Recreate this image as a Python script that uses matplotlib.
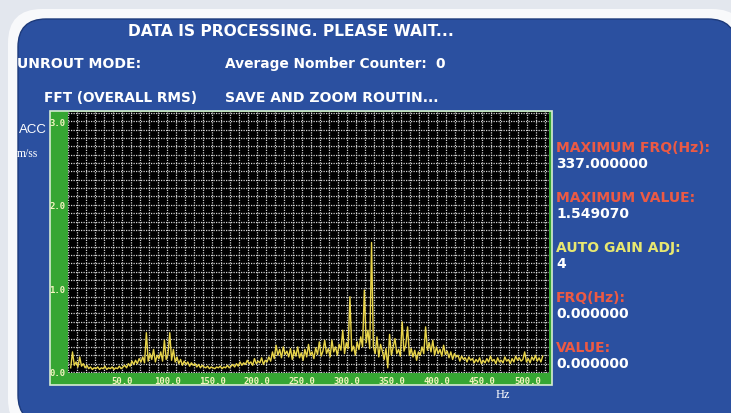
import matplotlib
matplotlib.use("Agg")
import matplotlib.pyplot as plt
import numpy as np
from matplotlib.patches import FancyBboxPatch, Rectangle
from matplotlib.transforms import ScaledTranslation

# spectrum amplitude (m/ss), one value every 2 Hz starting at 3 Hz
acc = [
    0.05, 0.24, 0.08, 0.12, 0.06,  0.18, 0.07, 0.10, 0.05, 0.08,
    0.04, 0.06, 0.03, 0.05, 0.04,  0.06, 0.03, 0.05, 0.04, 0.07,
    0.03, 0.05, 0.04, 0.06, 0.03,  0.05, 0.04, 0.07, 0.04, 0.06,
    0.08, 0.05, 0.10, 0.07, 0.13,  0.09, 0.14, 0.10, 0.16, 0.12,
    0.18, 0.11, 0.47, 0.13, 0.22,  0.15, 0.27, 0.12, 0.20, 0.16,
    0.24, 0.13, 0.38, 0.15, 0.21,  0.47, 0.14, 0.27, 0.12, 0.18,
    0.10, 0.15, 0.08, 0.13, 0.09,  0.12, 0.07, 0.11, 0.08, 0.10,
    0.06, 0.09, 0.05, 0.08, 0.06,  0.05, 0.07, 0.04, 0.06, 0.05,
    0.04, 0.06, 0.05, 0.07, 0.04,  0.06, 0.05, 0.08, 0.05, 0.07,
    0.09, 0.06, 0.10, 0.07, 0.12,  0.08, 0.11, 0.09, 0.14, 0.10,
    0.12, 0.08, 0.16, 0.10, 0.13,  0.11, 0.17, 0.09, 0.14, 0.12,
    0.18, 0.13, 0.24, 0.16, 0.32,  0.20, 0.27, 0.17, 0.30, 0.21,
    0.25, 0.18, 0.28, 0.15, 0.26,  0.19, 0.30, 0.17, 0.23, 0.14,
    0.27, 0.18, 0.33, 0.20, 0.24,  0.16, 0.29, 0.21, 0.36, 0.19,
    0.25, 0.38, 0.22, 0.28, 0.18,  0.38, 0.24, 0.30, 0.20, 0.33,
    0.26, 0.50, 0.22, 0.35, 0.28,  0.90, 0.25, 0.31, 0.20, 0.36,
    0.27, 0.42, 0.30, 0.98, 0.35,  0.50, 0.28, 1.549, 0.30, 0.22,
    0.42, 0.18, 0.33, 0.25, 0.15,  0.28, 0.05, 0.45, 0.20, 0.30,
    0.40, 0.22, 0.27, 0.19, 0.60,  0.25, 0.32, 0.54, 0.20, 0.28,
    0.18, 0.26, 0.14, 0.24, 0.20,  0.30, 0.22, 0.54, 0.26, 0.35,
    0.24, 0.38, 0.20, 0.30, 0.22,  0.27, 0.19, 0.32, 0.21, 0.25,
    0.17, 0.24, 0.15, 0.22, 0.18,  0.20, 0.13, 0.19, 0.15, 0.17,
    0.12, 0.18, 0.14, 0.16, 0.11,  0.15, 0.12, 0.17, 0.10, 0.14,
    0.11, 0.16, 0.12, 0.19, 0.13,  0.15, 0.10, 0.17, 0.12, 0.14,
    0.11, 0.18, 0.13, 0.15, 0.10,  0.16, 0.12, 0.19, 0.14, 0.17,
    0.13, 0.15, 0.24, 0.12, 0.16,  0.11, 0.18, 0.14, 0.20, 0.13,
    0.17, 0.12, 0.19,
]
freq = np.arange(3, 3 + 2 * len(acc), 2)

x_ticks = [50, 100, 150, 200, 250, 300, 350, 400, 450, 500]
y_ticks = [0.0, 1.0, 2.0, 3.0]

side_labels = ["MAXIMUM FRQ(Hz):", "MAXIMUM VALUE:", "AUTO GAIN ADJ:", "FRQ(Hz):", "VALUE:"]
side_values = ["337.000000", "1.549070", "4", "0.000000", "0.000000"]
side_colors = ["#ec5a44", "#ec5a44", "#e8e870", "#ec5a44", "#ec5a44"]

W, H = 731, 414
fig = plt.figure(figsize=(W / 100, H / 100), dpi=100)
fig.patch.set_facecolor("#e3e7ee")

# background layer in pixel coordinates
bg = fig.add_axes([0, 0, 1, 1])
bg.set_xlim(0, W)
bg.set_ylim(H, 0)
bg.axis("off")

bg.add_patch(FancyBboxPatch((8, 10), 738, 424, boxstyle="round,pad=0,rounding_size=34",
                            fc="#f8f9fb", ec="none"))
bg.add_patch(FancyBboxPatch((18, 20), 718, 404, boxstyle="round,pad=0,rounding_size=28",
                            fc="#2b50a0", ec="#1d3a7a", lw=1))
bg.add_patch(Rectangle((50, 112), 502, 274, fc="#36a633", ec="#d6ecd2", lw=1.2))

hdr = dict(color="white", fontweight="bold", family="DejaVu Sans", va="center")
bg.text(291, 31, "DATA IS PROCESSING. PLEASE WAIT...", ha="center", fontsize=11.2, **hdr)
bg.text(17, 64, "UNROUT MODE:", ha="left", fontsize=10.1, **hdr)
bg.text(225, 64, "Average Nomber Counter:", ha="left", fontsize=9.9, **hdr)
bg.text(445, 64, "0", ha="right", fontsize=9.9, **hdr)
bg.text(44, 98, "FFT (OVERALL RMS)", ha="left", fontsize=9.8, **hdr)
bg.text(225, 98, "SAVE AND ZOOM ROUTIN...", ha="left", fontsize=10.1, **hdr)

bg.text(19, 130, "ACC", color="white", family="Liberation Sans", fontsize=9.5, va="center")
bg.text(17, 154, "m/ss", color="white", family="Liberation Serif", fontsize=8.5, va="center")
bg.text(496, 395, "Hz", color="white", family="Liberation Serif", fontsize=9, va="center")

y0 = 148
for lab, val, col in zip(side_labels, side_values, side_colors):
    bg.text(556, y0, lab, color=col, fontweight="bold", family="DejaVu Sans",
            fontsize=10, va="center")
    bg.text(556, y0 + 16, val, color="white", fontweight="bold", family="DejaVu Sans",
            fontsize=10, va="center")
    y0 += 50

# spectrum axes
ax = fig.add_axes([68 / W, 1 - 374 / H, (549 - 68) / W, (374 - 113) / H])
ax.set_facecolor("black")
ax.plot(freq, acc, color="#e8d44a", lw=1.0, zorder=3)
ax.set_xlim(0, 534)
ax.set_ylim(-0.012, 3.11)

ax.set_xticks(x_ticks)
ax.set_xticklabels([f"{v:.1f}" for v in x_ticks])
ax.set_xticks(np.arange(0, 535, 10), minor=True)
ax.set_yticks(y_ticks)
ax.set_yticklabels([f"{v:.1f}" for v in y_ticks])
ax.set_yticks(np.arange(0, 3.11, 0.1), minor=True)
ax.grid(which="both", color="#e8e8e8", lw=0.9, ls=(0, (1, 1)), alpha=0.9)
ax.set_axisbelow(True)
ax.tick_params(which="both", length=0, colors="#f4f4c0", labelsize=6.5, pad=2)
for t in ax.get_xticklabels() + ax.get_yticklabels():
    t.set_family("DejaVu Sans Mono")
    t.set_fontweight("bold")
off = ScaledTranslation(9 / 100, 0, fig.dpi_scale_trans)
for t in ax.get_xticklabels():
    t.set_transform(t.get_transform() + off)
for s in ax.spines.values():
    s.set_visible(False)

fig.savefig("out.png", dpi=100, facecolor=fig.get_facecolor())
